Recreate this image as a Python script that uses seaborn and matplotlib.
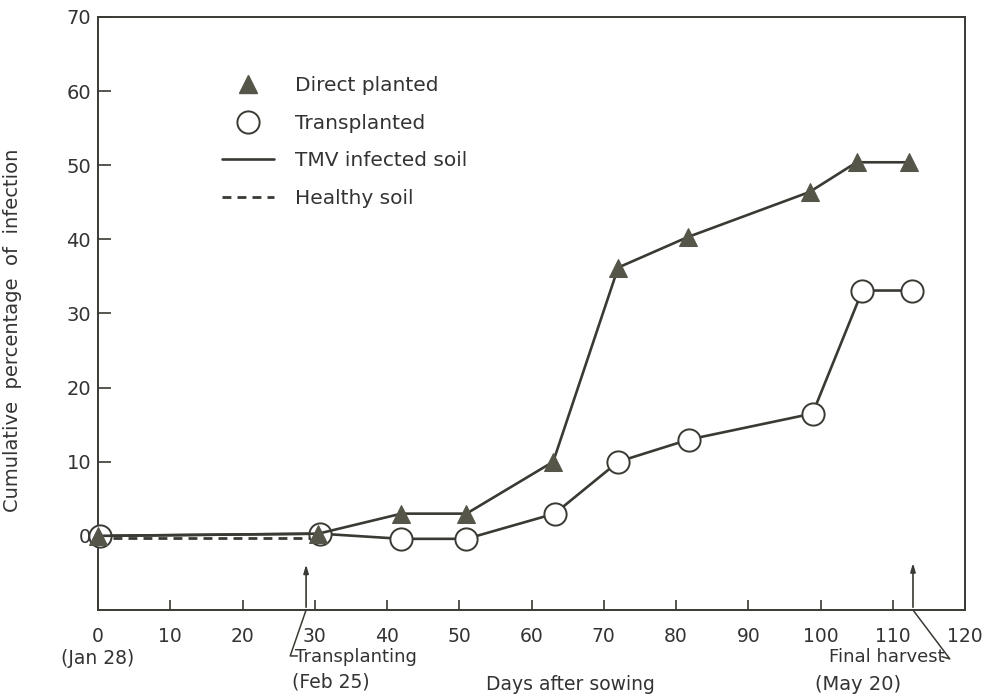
import matplotlib
matplotlib.use("Agg")
import matplotlib.pyplot as plt
import seaborn as sns
import pandas as pd
from matplotlib.lines import Line2D

# ---- data ----
direct_days = [0, 30.5, 42, 51, 63, 72, 81.6, 98.5, 105, 112.3]
direct_pct = [0, 0.3, 3.0, 3.0, 10.0, 36.2, 40.3, 46.4, 50.4, 50.4]

trans_days = [0.3, 30.7, 42, 51, 63.2, 72, 81.8, 98.9, 105.8, 112.6]
trans_pct = [0, 0.3, -0.4, -0.4, 3.0, 10.0, 13.0, 16.5, 33.1, 33.1]

healthy_days = [0, 30]
healthy_pct = [-0.3, -0.3]

x_ticks = [0, 10, 20, 30, 40, 50, 60, 70, 80, 90, 100, 110, 120]
x_ticklabels = ["0\n(Jan 28)", "10", "20", "30", "40", "50", "60", "70", "80",
                "90", "100", "110", "120"]
y_ticks = [0, 10, 20, 30, 40, 50, 60, 70]
y_ticklabels = ["0", "10", "20", "30", "40", "50", "60", "70"]

legend_labels = ["Direct planted", "Transplanted", "TMV infected soil", "Healthy soil"]

# ---- style ----
sns.set_style("ticks")
plt.rcParams['font.family'] = ['DejaVu Sans']
INK = "#3a3a34"
FILL = "#55554a"
TXT = "#333333"
DASH = (0, (3.2, 2.2))

fig = plt.figure(figsize=(9.84, 6.97), dpi=100)
ax = fig.add_axes([98 / 984, 1 - 610 / 697, (965 - 98) / 984, (610 - 17) / 697])

df_d = pd.DataFrame({"day": direct_days, "pct": direct_pct})
df_t = pd.DataFrame({"day": trans_days, "pct": trans_pct})
df_h = pd.DataFrame({"day": healthy_days, "pct": healthy_pct})

sns.lineplot(data=df_h, x="day", y="pct", ax=ax, color=INK, lw=2.0,
             linestyle=DASH, zorder=2, sort=False)
sns.lineplot(data=df_t, x="day", y="pct", ax=ax, color=INK, lw=1.9,
             marker="o", markersize=16, markerfacecolor="white",
             markeredgecolor=INK, markeredgewidth=1.4, zorder=3, sort=False)
sns.lineplot(data=df_d, x="day", y="pct", ax=ax, color=INK, lw=1.9,
             marker="^", markersize=12.5, markerfacecolor=FILL,
             markeredgecolor=FILL, zorder=4, sort=False)
for ln in ax.lines:
    ln.set_clip_on(False)

ax.set_xlim(0, 120)
ax.set_ylim(-10, 70)
ax.set_xticks(x_ticks)
ax.set_xticklabels(x_ticklabels, fontsize=13.5, color=TXT)
ax.set_yticks(y_ticks)
ax.set_yticklabels(y_ticklabels, fontsize=14, color=TXT)
ax.tick_params(axis="x", direction="in", length=7, width=1.2, pad=12, color=INK)
ax.tick_params(axis="y", direction="in", length=9, width=1.2, pad=5, color=INK)
for s in ax.spines.values():
    s.set_visible(True)
    s.set_color(INK)
    s.set_linewidth(1.4)

ax.set_xlabel("Days after sowing", fontsize=13.5, color=TXT, va="center")
ax.xaxis.set_label_coords((570 - 98) / 867, (610 - 685) / 593)
ax.set_ylabel("Cumulative  percentage  of  infection", fontsize=14,
              color=TXT, labelpad=14)
ax.yaxis.set_label_coords(-(98 - 22) / 867, (610 - 330) / 593)

# ---- annotations ----
arrow_kw = dict(arrowstyle="-|>,head_length=0.5,head_width=0.15", color=INK, lw=1.2)
ax.annotate("", xy=(28.8, -3.5), xytext=(28.8, -10), arrowprops=arrow_kw,
            annotation_clip=False)
ax.plot([28.8, 26.6, 27.6], [-10, -16.2, -16.2], color=INK, lw=1.1, clip_on=False)
ax.text(27.3, -16.4, "Transplanting", fontsize=13, color=TXT,
        ha="left", va="center", clip_on=False)
ax.text(26.8, -19.7, "(Feb 25)", fontsize=13.5, color=TXT,
        ha="left", va="center", clip_on=False)

ax.annotate("", xy=(112.8, -3.3), xytext=(112.8, -10), arrowprops=arrow_kw,
            annotation_clip=False)
ax.plot([112.8, 117.9, 116.8], [-10, -16.6, -16.3], color=INK, lw=1.1, clip_on=False)
ax.text(117.2, -16.4, "Final harvest", fontsize=13, color=TXT,
        ha="right", va="center", clip_on=False)
ax.text(99.3, -20.0, "(May 20)", fontsize=14, color=TXT,
        ha="left", va="center", clip_on=False)

# ---- legend ----
handles = [
    Line2D([], [], linestyle="none", marker="^", markersize=12.5,
           markerfacecolor=FILL, markeredgecolor=FILL),
    Line2D([], [], linestyle="none", marker="o", markersize=16,
           markerfacecolor="white", markeredgecolor=INK, markeredgewidth=1.4),
    Line2D([], [], color=INK, lw=1.9),
    Line2D([], [], color=INK, lw=2.0, linestyle=DASH),
]
leg = ax.legend(handles, legend_labels, loc="upper left",
                bbox_to_anchor=((214 - 98) / 867, (610 - 68) / 593),
                frameon=False, fontsize=14.5, handlelength=2.6,
                labelspacing=0.92, handletextpad=1.0, borderaxespad=0)
for t in leg.get_texts():
    t.set_color(TXT)

fig.savefig("out.png", dpi=100, facecolor="white")
